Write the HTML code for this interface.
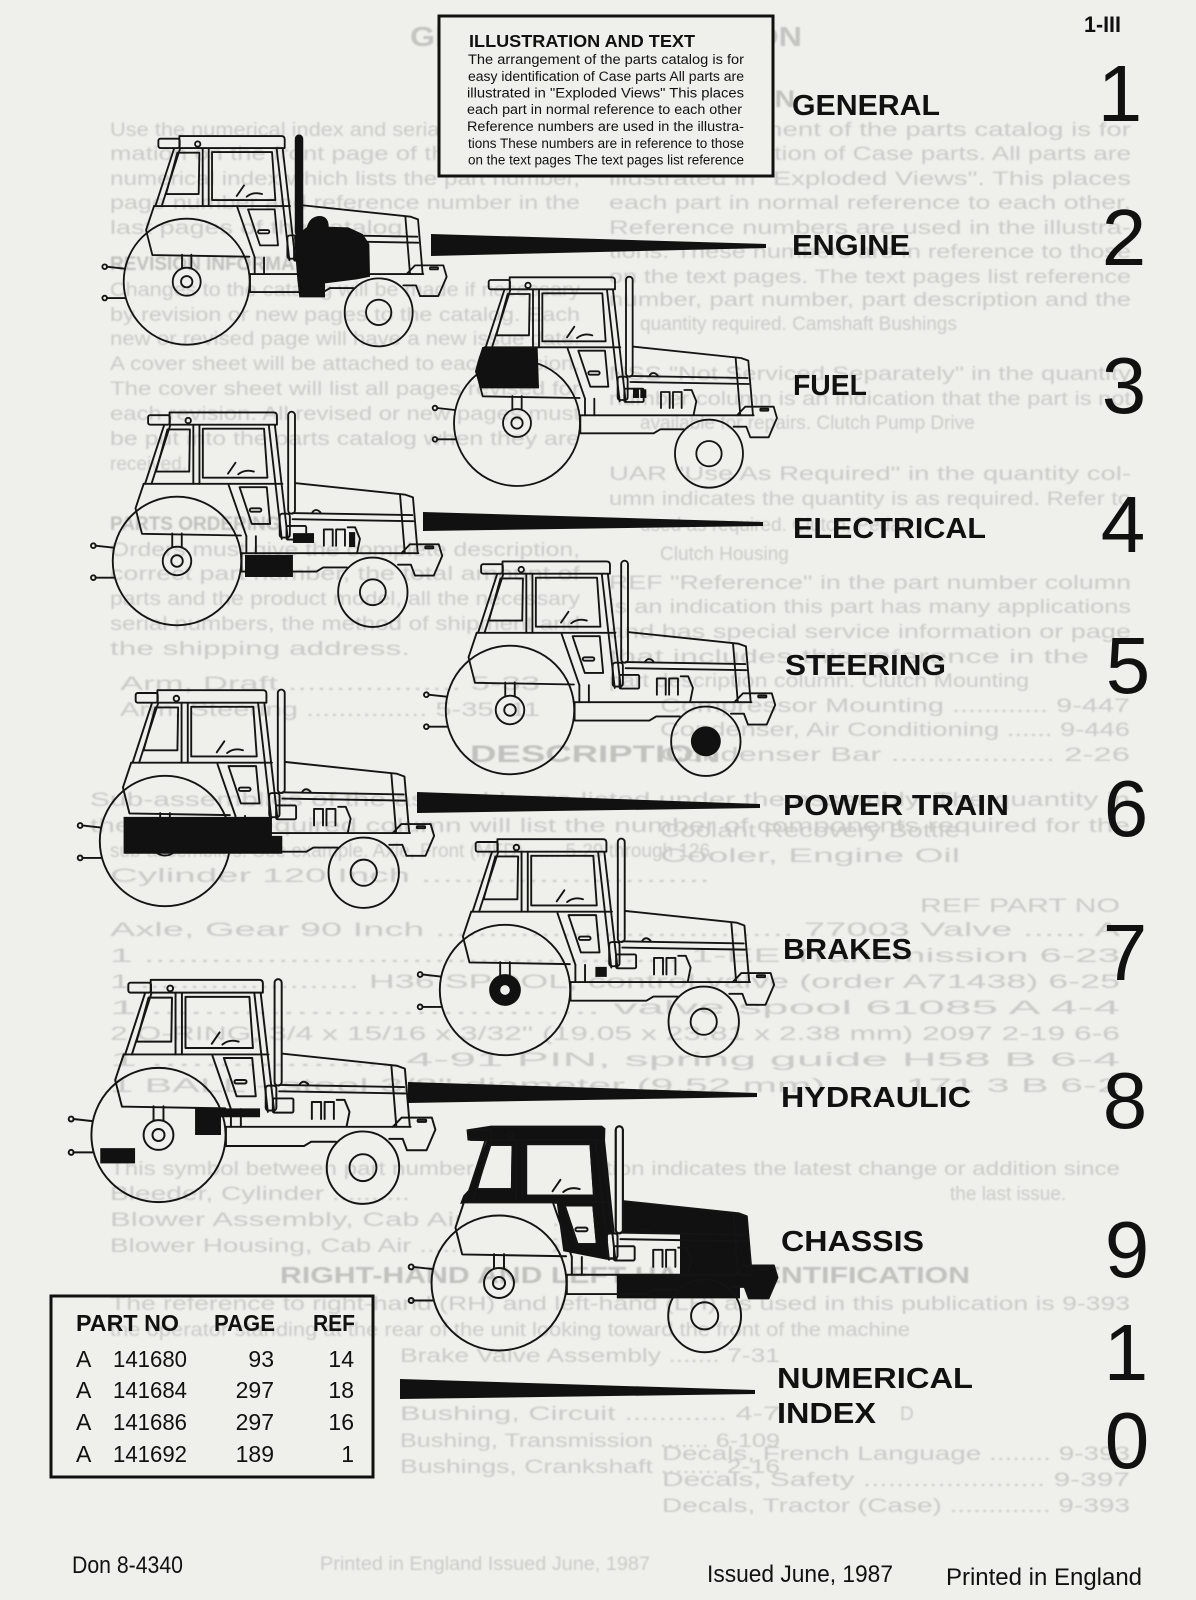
<!DOCTYPE html>
<html>
<head>
<meta charset="utf-8">
<style>
html,body{margin:0;padding:0;background:#efefec;width:1196px;height:1600px;overflow:hidden}
svg{display:block}
</style>
</head>
<body>
<svg width="1196" height="1600" viewBox="0 0 1196 1600" xmlns="http://www.w3.org/2000/svg" xmlns:xlink="http://www.w3.org/1999/xlink" font-family="'Liberation Sans', Arial, sans-serif">
<defs>
<filter id="soft" x="-5%" y="-20%" width="110%" height="140%">
  <feGaussianBlur stdDeviation="0.7"/>
</filter>
<g id="tr" fill="none" stroke="#141414" stroke-width="5.5" stroke-linejoin="round" stroke-linecap="round">
  <circle cx="290" cy="485" r="189"/>
  <path d="M276,404 V444 M304,404 V444"/>
  <circle cx="290" cy="485" r="42"/>
  <circle cx="290" cy="485" r="17"/>
  <path d="M50,440 L104,446 M50,534 L104,534"/>
  <circle cx="44" cy="440" r="7"/>
  <circle cx="44" cy="534" r="7"/>
  <path d="M192,258 L168,330 L187,405 L478,410"/>
  <path d="M192,258 H600"/>
  <rect x="205" y="56" width="64" height="28" rx="6"/>
  <path d="M268,48 H574 Q584,48 584,58 V84 H268 Z"/>
  <circle cx="323" cy="72" r="8"/>
  <path d="M252,86 L196,258 M270,86 L215,258"/>
  <path d="M262,98 H328 L326,222 H228 Z"/>
  <path d="M338,86 V258 M356,86 V258"/>
  <path d="M366,96 H546 L556,240 H366 Z"/>
  <path d="M560,86 L598,420 M578,86 L616,420"/>
  <path d="M442,262 L494,412"/>
  <path d="M474,268 H554 L564,376 H510 Z"/>
  <rect x="504" y="330" width="34" height="10" rx="5"/>
  <path d="M440,228 L462,196 M470,230 Q490,214 516,222"/>
  <path d="M494,412 V462 M522,412 V462"/>
  <rect x="617" y="46" width="20" height="300" rx="10"/>
  <rect x="592" y="346" width="30" height="70" rx="8"/>
  <path d="M640,256 L962,290 L984,298 L998,462"/>
  <path d="M946,290 L960,462"/>
  <path d="M630,344 L982,350 M630,362 L985,368"/>
  <path d="M688,342 Q698,328 712,342"/>
  <rect x="612" y="382" width="58" height="40" rx="4"/>
  <path d="M722,440 V392 H748 V440 M758,440 V392 H784 V440 M792,386 H814 L828,420 L820,460"/>
  <path d="M480,462 H1000"/>
  <path d="M480,462 V516 H700 L720,504 H790"/>
  <path d="M950,462 L975,436 H1060 L1070,470 L1045,528 H990 L978,496 L940,496"/>
  <rect x="1020" y="442" width="24" height="6" rx="2"/>
  <circle cx="866" cy="577" r="102"/>
  <circle cx="866" cy="577" r="38"/>
</g>
</defs>

<rect x="0" y="0" width="1196" height="1600" fill="#efefec"/>

<!-- ===== faint show-through text ===== -->
<g fill="#cacac7" font-size="19" filter="url(#soft)">
  <text x="410" y="46" font-size="28" font-weight="bold" fill="#c4c4c1" textLength="392" lengthAdjust="spacingAndGlyphs">GENERAL INFORMATION</text>
  <text x="590" y="107" font-size="24" font-weight="bold" fill="#c1c1be" textLength="205" lengthAdjust="spacingAndGlyphs">ILLUSTRATION</text>
  <text x="609" y="136" textLength="522" lengthAdjust="spacingAndGlyphs">The arrangement of the parts catalog is for</text>
  <text x="609" y="160" textLength="522" lengthAdjust="spacingAndGlyphs">easy identification of Case parts. All parts are</text>
  <text x="609" y="185" textLength="522" lengthAdjust="spacingAndGlyphs">illustrated in "Exploded Views". This places</text>
  <text x="609" y="209" textLength="522" lengthAdjust="spacingAndGlyphs">each part in normal reference to each other.</text>
  <text x="609" y="234" textLength="522" lengthAdjust="spacingAndGlyphs">Reference numbers are used in the illustra-</text>
  <text x="609" y="258" textLength="522" lengthAdjust="spacingAndGlyphs">tions. These numbers are in reference to those</text>
  <text x="609" y="283" textLength="522" lengthAdjust="spacingAndGlyphs">on the text pages. The text pages list reference</text>
  <text x="609" y="306" textLength="522" lengthAdjust="spacingAndGlyphs">number, part number, part description and the</text>
  <text x="640" y="330">quantity required.      Camshaft Bushings</text>
  <text x="609" y="380" textLength="522" lengthAdjust="spacingAndGlyphs">NSS "Not Serviced Separately" in the quantity</text>
  <text x="609" y="405" textLength="522" lengthAdjust="spacingAndGlyphs">number column is an indication that the part is not</text>
  <text x="640" y="429">available for repairs.        Clutch Pump Drive</text>
  <text x="609" y="480" textLength="522" lengthAdjust="spacingAndGlyphs">UAR "Use As Required" in the quantity col-</text>
  <text x="609" y="505" textLength="522" lengthAdjust="spacingAndGlyphs">umn indicates the quantity is as required. Refer to</text>
  <text x="640" y="531">used as required.        Clutch, Pedal</text>
  <text x="660" y="560">Clutch Housing</text>
  <text x="609" y="589" textLength="522" lengthAdjust="spacingAndGlyphs">REF "Reference" in the part number column</text>
  <text x="609" y="613" textLength="522" lengthAdjust="spacingAndGlyphs">is an indication this part has many applications</text>
  <text x="609" y="638" textLength="522" lengthAdjust="spacingAndGlyphs">and has special service information or page</text>
  <text x="609" y="663" textLength="480" lengthAdjust="spacingAndGlyphs">that includes this reference in the</text>
  <text x="609" y="687" textLength="420" lengthAdjust="spacingAndGlyphs">part description column.      Clutch Mounting</text>
  <text x="660" y="712" textLength="470" lengthAdjust="spacingAndGlyphs">Compressor Mounting ............ 9-447</text>
  <text x="660" y="736" textLength="470" lengthAdjust="spacingAndGlyphs">Condenser, Air Conditioning ...... 9-446</text>
  <text x="660" y="761" textLength="470" lengthAdjust="spacingAndGlyphs">Condenser Bar .................. 2-26</text>
  <text x="660" y="837" textLength="300" lengthAdjust="spacingAndGlyphs">Coolant Recovery Bottle</text>
  <text x="660" y="862" textLength="300" lengthAdjust="spacingAndGlyphs">Cooler, Engine Oil</text>

  <text x="110" y="136" textLength="470" lengthAdjust="spacingAndGlyphs">Use the numerical index and serial number infor-</text>
  <text x="110" y="160" textLength="470" lengthAdjust="spacingAndGlyphs">mation on the front page of the catalog. A</text>
  <text x="110" y="185" textLength="470" lengthAdjust="spacingAndGlyphs">numerical index which lists the part number,</text>
  <text x="110" y="209" textLength="470" lengthAdjust="spacingAndGlyphs">page number and reference number in the</text>
  <text x="110" y="234" textLength="300" lengthAdjust="spacingAndGlyphs">last pages of the catalog.</text>
  <text x="110" y="270" font-weight="bold" fill="#c1c1be">REVISION INFORMATION</text>
  <text x="110" y="296" textLength="470" lengthAdjust="spacingAndGlyphs">Changes to the catalog will be made if necessary</text>
  <text x="110" y="321" textLength="470" lengthAdjust="spacingAndGlyphs">by revision or new pages to the catalog. Each</text>
  <text x="110" y="345" textLength="470" lengthAdjust="spacingAndGlyphs">new or revised page will have a new issue date.</text>
  <text x="110" y="370" textLength="470" lengthAdjust="spacingAndGlyphs">A cover sheet will be attached to each revision.</text>
  <text x="110" y="395" textLength="470" lengthAdjust="spacingAndGlyphs">The cover sheet will list all pages revised for</text>
  <text x="110" y="420" textLength="470" lengthAdjust="spacingAndGlyphs">each revision. All revised or new pages must</text>
  <text x="110" y="445" textLength="470" lengthAdjust="spacingAndGlyphs">be put into the parts catalog when they are</text>
  <text x="110" y="470">received.</text>
  <text x="110" y="530" font-weight="bold" fill="#c1c1be">PARTS ORDERING</text>
  <text x="110" y="556" textLength="470" lengthAdjust="spacingAndGlyphs">Orders must give the complete description,</text>
  <text x="110" y="580" textLength="470" lengthAdjust="spacingAndGlyphs">correct part number, the total amount of</text>
  <text x="110" y="605" textLength="470" lengthAdjust="spacingAndGlyphs">parts and the product model, all the necessary</text>
  <text x="110" y="630" textLength="470" lengthAdjust="spacingAndGlyphs">serial numbers, the method of shipment and</text>
  <text x="110" y="655" textLength="300" lengthAdjust="spacingAndGlyphs">the shipping address.</text>
  <text x="120" y="690" textLength="420" lengthAdjust="spacingAndGlyphs">Arm, Draft .................. 5-33</text>
  <text x="120" y="716" textLength="420" lengthAdjust="spacingAndGlyphs">Arm, Steering ............... 5-35, 11</text>
  <text x="470" y="762" font-size="24" font-weight="bold" fill="#c1c1be" textLength="250" lengthAdjust="spacingAndGlyphs">DESCRIPTION</text>
  <text x="90" y="806" textLength="1040" lengthAdjust="spacingAndGlyphs">Sub-assemblies of the assembly are listed under the assembly. The quantity in</text>
  <text x="90" y="832" textLength="1040" lengthAdjust="spacingAndGlyphs">the amount required column will list the number of components required for the</text>
  <text x="110" y="857" textLength="600" lengthAdjust="spacingAndGlyphs">sub-assemblies. See example.       Axle, Front (MFD) ...... 5-29 through 126</text>
  <text x="110" y="882" textLength="600" lengthAdjust="spacingAndGlyphs">Cylinder 120 Inch ...........................</text>
  <text x="920" y="912" textLength="200" lengthAdjust="spacingAndGlyphs">REF   PART NO</text>
  <text x="110" y="936" textLength="1010" lengthAdjust="spacingAndGlyphs">Axle, Gear 90 Inch ..................................  77003   Valve ...... A</text>
  <text x="110" y="962" textLength="1010" lengthAdjust="spacingAndGlyphs">1 ................................................ 1-EE  Transmission   6-23</text>
  <text x="110" y="988" textLength="1010" lengthAdjust="spacingAndGlyphs">1 ...................... H36   SPOOL, control valve (order A71438)        6-25</text>
  <text x="110" y="1014" textLength="1010" lengthAdjust="spacingAndGlyphs">1 .................................. valve spool    61085   A    4-4</text>
  <text x="110" y="1040" textLength="1010" lengthAdjust="spacingAndGlyphs">2 O-RING, 3/4 x 15/16 x 3/32" (19.05 x 23.81 x 2.38 mm)   2097   2-19   6-6</text>
  <text x="110" y="1066" textLength="1010" lengthAdjust="spacingAndGlyphs">1 .................. 4-91    PIN, spring guide    H58     B    6-4</text>
  <text x="110" y="1092" textLength="1010" lengthAdjust="spacingAndGlyphs">1 BALL - steel 3/8" diameter (9.52 mm) ..... 171    3    B    6-2</text>
  <text x="110" y="1175" textLength="1010" lengthAdjust="spacingAndGlyphs">This symbol between part number and description indicates the latest change or addition since</text>
  <text x="950" y="1200">the last issue.</text>
  <text x="110" y="1200" textLength="300" lengthAdjust="spacingAndGlyphs">Bleeder, Cylinder ..........</text>
  <text x="110" y="1226" textLength="450" lengthAdjust="spacingAndGlyphs">Blower Assembly, Cab Air ..........</text>
  <text x="110" y="1252" textLength="450" lengthAdjust="spacingAndGlyphs">Blower Housing, Cab Air .......... 2-35</text>
  <text x="280" y="1283" font-size="23" font-weight="bold" fill="#c1c1be" textLength="690" lengthAdjust="spacingAndGlyphs">RIGHT-HAND AND LEFT-HAND IDENTIFICATION</text>
  <text x="110" y="1310" textLength="1020" lengthAdjust="spacingAndGlyphs">The reference to right-hand (RH) and left-hand (LH) as used in this publication is 9-393</text>
  <text x="110" y="1336" textLength="800" lengthAdjust="spacingAndGlyphs">the operator standing at the rear of the unit looking toward the front of the machine</text>
  <text x="400" y="1362" textLength="380" lengthAdjust="spacingAndGlyphs">Brake Valve Assembly ....... 7-31</text>
  <text x="400" y="1420" textLength="380" lengthAdjust="spacingAndGlyphs">Bushing, Circuit ............ 4-7</text>
  <text x="400" y="1447" textLength="380" lengthAdjust="spacingAndGlyphs">Bushing, Transmission ....... 6-109</text>
  <text x="400" y="1473" textLength="380" lengthAdjust="spacingAndGlyphs">Bushings, Crankshaft ........ 2-16</text>
  <text x="900" y="1420">D</text>
  <text x="662" y="1460" textLength="468" lengthAdjust="spacingAndGlyphs">Decals, French Language ........ 9-393</text>
  <text x="662" y="1486" textLength="468" lengthAdjust="spacingAndGlyphs">Decals, Safety ...................... 9-397</text>
  <text x="662" y="1512" textLength="468" lengthAdjust="spacingAndGlyphs">Decals, Tractor (Case) ............. 9-393</text>
  <text x="320" y="1570" textLength="330" lengthAdjust="spacingAndGlyphs">Printed in England    Issued June, 1987</text>
</g>

<!-- ===== Illustration and text box ===== -->
<rect x="439" y="16" width="334" height="160" fill="#efefec" stroke="#111" stroke-width="3"/>
<g fill="#111">
  <text x="469" y="47" font-size="17.5" font-weight="bold" textLength="226" lengthAdjust="spacingAndGlyphs">ILLUSTRATION AND TEXT</text>
  <g font-size="13.5">
    <text x="468" y="64" textLength="276" lengthAdjust="spacingAndGlyphs">The arrangement of the parts catalog is for</text>
    <text x="468" y="81" textLength="276" lengthAdjust="spacingAndGlyphs">easy identification of Case parts  All parts are</text>
    <text x="467" y="97.5" textLength="277" lengthAdjust="spacingAndGlyphs">illustrated in  "Exploded Views"  This places</text>
    <text x="467" y="114" textLength="275" lengthAdjust="spacingAndGlyphs">each part in normal reference to each other</text>
    <text x="467" y="131" textLength="277" lengthAdjust="spacingAndGlyphs">Reference numbers are used in the illustra-</text>
    <text x="468" y="148" textLength="276" lengthAdjust="spacingAndGlyphs">tions  These numbers are in reference to those</text>
    <text x="468" y="164.5" textLength="276" lengthAdjust="spacingAndGlyphs">on the text pages  The text pages list reference</text>
  </g>
  <text x="1084" y="32" font-size="22" font-weight="bold" textLength="37" lengthAdjust="spacingAndGlyphs">1-III</text>
</g>

<!-- ===== Tractors ===== -->
<g transform="translate(186.7,281.7) scale(0.3333) translate(-290,-485)">
  <use href="#tr" xlink:href="#tr"/>
  <path fill="#111" d="M612,350 L650,322 Q660,288 690,288 Q716,290 716,320 L775,322 L818,342 L838,372 L840,470 L800,478 L705,490 L705,532 L628,532 L622,480 Z"/>
  <rect fill="#111" x="617" y="46" width="20" height="300" rx="10"/>
</g>
<g transform="translate(517,423) scale(0.3333) translate(-290,-485)">
  <use href="#tr" xlink:href="#tr"/>
  <path fill="#111" d="M186,257 L352,260 L356,381 L180,381 L164,330 L172,300 Z"/>
  <rect fill="#111" x="638" y="384" width="18" height="26"/>
  <rect fill="#111" x="660" y="384" width="18" height="26"/>
</g>
<g transform="translate(177,561) scale(0.34) translate(-290,-485)">
  <use href="#tr" xlink:href="#tr"/>
  <rect fill="#111" x="490" y="467" width="141" height="65"/>
  <rect fill="#111" x="631" y="403" width="62" height="29"/>
  <rect fill="#111" x="796" y="400" width="18" height="44"/>
</g>
<g transform="translate(510,710) scale(0.34) translate(-290,-485)">
  <use href="#tr" xlink:href="#tr"/>
  <circle fill="#111" cx="866" cy="577" r="44"/>
</g>
<g transform="translate(165,841) scale(0.345) translate(-290,-485)">
  <use href="#tr" xlink:href="#tr"/>
  <path fill="#111" d="M170,415 H600 V470 H630 V522 H170 Z"/>
</g>
<g transform="translate(505,990) scale(0.345) translate(-290,-485)">
  <use href="#tr" xlink:href="#tr"/>
  <circle fill="#111" cx="290" cy="485" r="46"/>
  <circle fill="#efefec" stroke="#111" stroke-width="4" cx="290" cy="485" r="16"/>
  <rect fill="#111" x="552" y="418" width="33" height="29"/>
</g>
<g transform="translate(158.5,1135) scale(0.355) translate(-290,-485)">
  <use href="#tr" xlink:href="#tr"/>
  <path fill="#111" d="M393,410 H576 V435 H466 V485 H393 Z"/>
  <rect fill="#111" x="126" y="522" width="98" height="43"/>
</g>
<g transform="translate(499,1283) scale(0.357) translate(-290,-485)">
  <path fill="#111" d="M199,55 L268,44 L578,44 L588,52 L587,86 L622,420 L592,420 L470,396 L452,263 L181,263 L190,240 L204,225 L255,88 L202,86 Z"/>
  <path fill="#111" d="M630,256 L962,290 L985,298 L1000,470 L965,470 L965,528 L620,528 L620,462 L797,462 L797,345 L630,345 Z"/>
  <path fill="#111" d="M950,462 L975,436 H1060 L1070,470 L1045,528 H990 L978,496 L940,496 Z"/>
  <g fill="#efefec" stroke="#141414" stroke-width="5.5" stroke-linejoin="round">
    <path d="M262,98 H328 L326,222 H228 Z"/>
    <path d="M366,96 H546 L556,240 H366 Z"/>
    <path d="M474,268 H554 L564,376 H510 Z"/>
    <rect x="617" y="46" width="20" height="300" rx="10"/>
    <rect x="592" y="346" width="30" height="70" rx="8"/>
    <path d="M192,262 L168,330 L187,405 L440,410 L446,262 Z" stroke="none"/>
  </g>
  <use href="#tr" xlink:href="#tr"/>
</g>

<!-- ===== Wedges ===== -->
<g fill="#111">
  <polygon points="431,234 766,244 766,248 431,256"/>
  <polygon points="423,512 763,522 763,526 423,531"/>
  <polygon points="417,792 760,804 760,808 417,813"/>
  <polygon points="408,1082 757,1093 757,1097 408,1103"/>
  <polygon points="400,1379 755,1390 755,1394 400,1399"/>
</g>

<!-- ===== Section labels ===== -->
<g fill="#111" font-size="29" font-weight="bold">
  <text x="792" y="115" textLength="148" lengthAdjust="spacingAndGlyphs">GENERAL</text>
  <text x="792" y="255" textLength="118" lengthAdjust="spacingAndGlyphs">ENGINE</text>
  <text x="793" y="395" textLength="74" lengthAdjust="spacingAndGlyphs">FUEL</text>
  <text x="793" y="538" textLength="193" lengthAdjust="spacingAndGlyphs">ELECTRICAL</text>
  <text x="785" y="675" textLength="161" lengthAdjust="spacingAndGlyphs">STEERING</text>
  <text x="783" y="815" textLength="226" lengthAdjust="spacingAndGlyphs">POWER TRAIN</text>
  <text x="783" y="959" textLength="129" lengthAdjust="spacingAndGlyphs">BRAKES</text>
  <text x="781" y="1107" textLength="190" lengthAdjust="spacingAndGlyphs">HYDRAULIC</text>
  <text x="781" y="1251" textLength="143" lengthAdjust="spacingAndGlyphs">CHASSIS</text>
  <text x="777" y="1388" textLength="196" lengthAdjust="spacingAndGlyphs">NUMERICAL</text>
  <text x="777" y="1423" textLength="99" lengthAdjust="spacingAndGlyphs">INDEX</text>
</g>

<!-- ===== Big section numbers ===== -->
<g fill="#111" font-size="80" text-anchor="middle">
  <text x="1120" y="121">1</text>
  <text x="1124" y="265">2</text>
  <text x="1124" y="413">3</text>
  <text x="1123" y="552">4</text>
  <text x="1128" y="693">5</text>
  <text x="1126" y="836">6</text>
  <text x="1125" y="980">7</text>
  <text x="1125" y="1128">8</text>
  <text x="1127" y="1277">9</text>
  <text x="1126" y="1380">1</text>
  <text x="1127" y="1468">0</text>
</g>

<!-- ===== Part table ===== -->
<rect x="51" y="1296" width="322" height="181" fill="none" stroke="#111" stroke-width="3"/>
<g fill="#111" font-size="23">
  <text x="76" y="1331" font-weight="bold" textLength="103" lengthAdjust="spacingAndGlyphs">PART NO</text>
  <text x="214" y="1331" font-weight="bold" textLength="61" lengthAdjust="spacingAndGlyphs">PAGE</text>
  <text x="313" y="1331" font-weight="bold" textLength="42" lengthAdjust="spacingAndGlyphs">REF</text>

  <text x="76" y="1367">A</text>
  <text x="113" y="1367" textLength="74" lengthAdjust="spacingAndGlyphs">141680</text>
  <text x="274" y="1367" text-anchor="end">93</text>
  <text x="354" y="1367" text-anchor="end">14</text>

  <text x="76" y="1398">A</text>
  <text x="113" y="1398" textLength="74" lengthAdjust="spacingAndGlyphs">141684</text>
  <text x="274" y="1398" text-anchor="end">297</text>
  <text x="354" y="1398" text-anchor="end">18</text>

  <text x="76" y="1430">A</text>
  <text x="113" y="1430" textLength="74" lengthAdjust="spacingAndGlyphs">141686</text>
  <text x="274" y="1430" text-anchor="end">297</text>
  <text x="354" y="1430" text-anchor="end">16</text>

  <text x="76" y="1462">A</text>
  <text x="113" y="1462" textLength="74" lengthAdjust="spacingAndGlyphs">141692</text>
  <text x="274" y="1462" text-anchor="end">189</text>
  <text x="354" y="1462" text-anchor="end">1</text>
</g>

<!-- ===== Footer ===== -->
<g fill="#111" font-size="24">
  <text x="72" y="1573" textLength="111" lengthAdjust="spacingAndGlyphs">Don 8-4340</text>
  <text x="707" y="1582" textLength="186" lengthAdjust="spacingAndGlyphs">Issued June, 1987</text>
  <text x="946" y="1585" textLength="196" lengthAdjust="spacingAndGlyphs">Printed in England</text>
</g>
</svg>
</body>
</html>
